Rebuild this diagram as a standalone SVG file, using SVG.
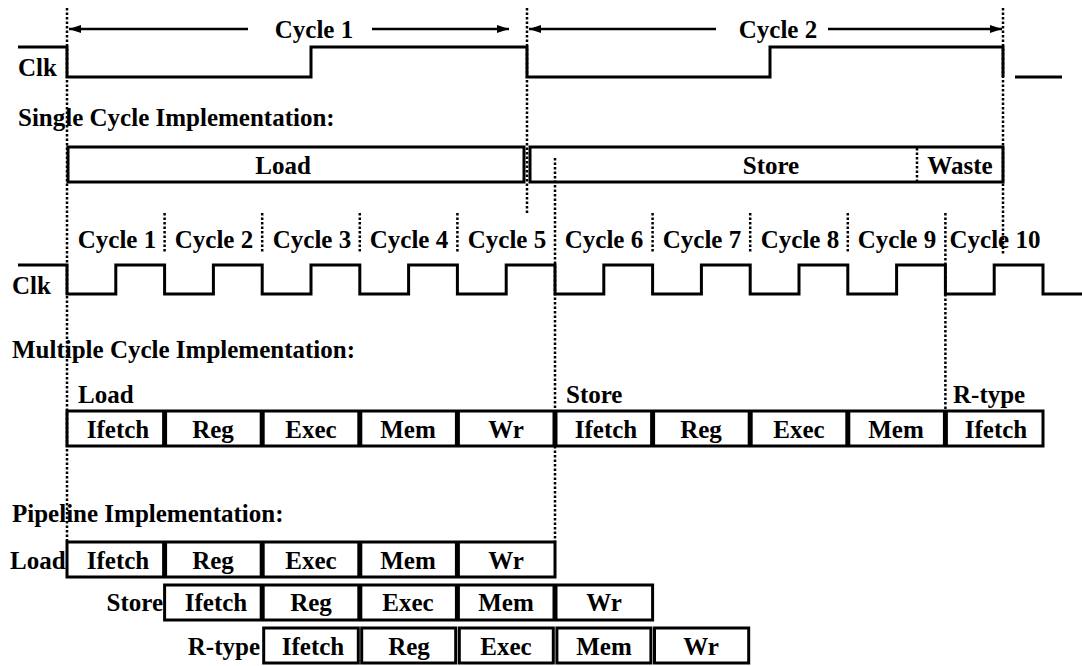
<svg xmlns="http://www.w3.org/2000/svg" width="1082" height="666" viewBox="0 0 1082 666">
<defs>
<style>
text{font-family:"Liberation Serif","Times New Roman",serif;font-weight:bold;font-size:25px;fill:#000}
.m{text-anchor:middle}
.e{text-anchor:end}
.w{fill:none;stroke:#000;stroke-width:3}
.box{fill:#fff;stroke:#000;stroke-width:3}
.sep{stroke:#000;stroke-width:5}
.dot{stroke:#000;stroke-width:2.5;stroke-dasharray:2.5 2;fill:none}
.arr{stroke:#000;stroke-width:2.5;fill:none}
</style>
<marker id="ah" viewBox="0 0 12 8" refX="12" refY="4" markerWidth="12" markerHeight="8" markerUnits="userSpaceOnUse" orient="auto-start-reverse">
<path d="M0,0 L12,4 L0,8 Z" fill="#000"/>
</marker>
</defs>
<rect width="1082" height="666" fill="#fff"/>

<g id="single-cycle">
<text x="314" y="38" class="m">Cycle 1</text>
<text x="778" y="38" class="m">Cycle 2</text>
<text x="18" y="76">Clk</text>
<path class="w" d="M18,47 H67 V77 H311 V47 H527 V77 H770 V47 H1003 V77"/>
<path class="w" d="M1015,77 H1062"/>
<text x="18" y="126">Single Cycle Implementation:</text>
<g id="sc-load"><rect class="box" x="68" y="147" width="456" height="35"/><text x="283" y="174" class="m">Load</text></g>
<g id="sc-store"><rect class="box" x="530" y="147" width="473" height="35"/><text x="771" y="174" class="m">Store</text><text x="960" y="174" class="m">Waste</text></g>
</g>

<g id="multi-cycle">
<text x="117" y="248" class="m">Cycle 1</text>
<text x="214" y="248" class="m">Cycle 2</text>
<text x="312" y="248" class="m">Cycle 3</text>
<text x="409" y="248" class="m">Cycle 4</text>
<text x="507" y="248" class="m">Cycle 5</text>
<text x="604" y="248" class="m">Cycle 6</text>
<text x="702" y="248" class="m">Cycle 7</text>
<text x="800" y="248" class="m">Cycle 8</text>
<text x="897" y="248" class="m">Cycle 9</text>
<text x="995" y="248" class="m">Cycle 10</text>
<text x="12" y="294">Clk</text>
<path class="w" d="M18,265 H67 V294 H115.8 V265 H164.6 V294 H213.4 V265 H262.2 V294 H311 V265 H359.8 V294 H408.6 V265 H457.4 V294 H506.2 V265 H555 V294 H603.8 V265 H652.6 V294 H701.4 V265 H750.2 V294 H799 V265 H847.8 V294 H896.6 V265 H945.4 V294 H994.2 V265 H1043 V294 H1082"/>
<text x="12" y="358">Multiple Cycle Implementation:</text>
<text x="78" y="403">Load</text>
<text x="566" y="403">Store</text>
<text x="953" y="403">R-type</text>
<g id="mc-row">
<rect class="box" x="67" y="411" width="976" height="35"/>
<line class="sep" x1="164.6" y1="411" x2="164.6" y2="446"/>
<line class="sep" x1="262.2" y1="411" x2="262.2" y2="446"/>
<line class="sep" x1="359.8" y1="411" x2="359.8" y2="446"/>
<line class="sep" x1="457.4" y1="411" x2="457.4" y2="446"/>
<line class="sep" x1="555" y1="411" x2="555" y2="446"/>
<line class="sep" x1="652.6" y1="411" x2="652.6" y2="446"/>
<line class="sep" x1="750.2" y1="411" x2="750.2" y2="446"/>
<line class="sep" x1="847.8" y1="411" x2="847.8" y2="446"/>
<line class="sep" x1="945.4" y1="411" x2="945.4" y2="446"/>
<text x="118" y="438" class="m">Ifetch</text>
<text x="213" y="438" class="m">Reg</text>
<text x="311" y="438" class="m">Exec</text>
<text x="408" y="438" class="m">Mem</text>
<text x="506" y="438" class="m">Wr</text>
<text x="606" y="438" class="m">Ifetch</text>
<text x="701" y="438" class="m">Reg</text>
<text x="799" y="438" class="m">Exec</text>
<text x="896" y="438" class="m">Mem</text>
<text x="996" y="438" class="m">Ifetch</text>
</g>
</g>

<g id="pipeline">
<text x="12" y="522">Pipeline Implementation:</text>
<g id="pl-load">
<text x="10" y="569">Load</text>
<rect class="box" x="67" y="542" width="488" height="35"/>
<line class="sep" x1="164.6" y1="542" x2="164.6" y2="577"/>
<line class="sep" x1="262.2" y1="542" x2="262.2" y2="577"/>
<line class="sep" x1="359.8" y1="542" x2="359.8" y2="577"/>
<line class="sep" x1="457.4" y1="542" x2="457.4" y2="577"/>
<text x="118" y="569" class="m">Ifetch</text>
<text x="213" y="569" class="m">Reg</text>
<text x="311" y="569" class="m">Exec</text>
<text x="408" y="569" class="m">Mem</text>
<text x="506" y="569" class="m">Wr</text>
</g>
<g id="pl-store">
<text x="163" y="611" class="e">Store</text>
<rect class="box" x="164.6" y="585" width="488" height="35"/>
<line class="sep" x1="262.2" y1="585" x2="262.2" y2="620"/>
<line class="sep" x1="359.8" y1="585" x2="359.8" y2="620"/>
<line class="sep" x1="457.4" y1="585" x2="457.4" y2="620"/>
<line class="sep" x1="555" y1="585" x2="555" y2="620"/>
<text x="216" y="611" class="m">Ifetch</text>
<text x="311" y="611" class="m">Reg</text>
<text x="408" y="611" class="m">Exec</text>
<text x="506" y="611" class="m">Mem</text>
<text x="604" y="611" class="m">Wr</text>
</g>
<g id="pl-rtype">
<text x="260" y="655" class="e">R-type</text>
<rect class="box" x="263.7" y="628" width="94.6" height="35"/>
<rect class="box" x="361.7" y="628" width="94" height="35"/>
<rect class="box" x="459.3" y="628" width="94" height="35"/>
<rect class="box" x="556.9" y="628" width="94" height="35"/>
<rect class="box" x="654.5" y="628" width="94.2" height="35"/>
<text x="313" y="655" class="m">Ifetch</text>
<text x="409" y="655" class="m">Reg</text>
<text x="506" y="655" class="m">Exec</text>
<text x="604" y="655" class="m">Mem</text>
<text x="701" y="655" class="m">Wr</text>
</g>
</g>

<g id="connectors">
<line class="arr" x1="248" y1="29" x2="69" y2="29" marker-end="url(#ah)"/>
<line class="arr" x1="372" y1="29" x2="509" y2="29" marker-end="url(#ah)"/>
<line class="arr" x1="716" y1="29" x2="529" y2="29" marker-end="url(#ah)"/>
<line class="arr" x1="828" y1="29" x2="1002" y2="29" marker-end="url(#ah)"/>
<line class="dot" x1="67" y1="8" x2="67" y2="542"/>
<line class="dot" x1="527" y1="8" x2="527" y2="214"/>
<line class="dot" x1="1003" y1="8" x2="1003" y2="255"/>
<line class="dot" x1="555" y1="158" x2="555" y2="542"/>
<line class="dot" x1="917" y1="148" x2="917" y2="182"/>
<line class="dot" x1="945.4" y1="213" x2="945.4" y2="411"/>
<line class="dot" x1="164.6" y1="213" x2="164.6" y2="252"/>
<line class="dot" x1="262.2" y1="213" x2="262.2" y2="252"/>
<line class="dot" x1="359.8" y1="213" x2="359.8" y2="252"/>
<line class="dot" x1="457.4" y1="213" x2="457.4" y2="252"/>
<line class="dot" x1="652.6" y1="213" x2="652.6" y2="252"/>
<line class="dot" x1="750.2" y1="213" x2="750.2" y2="252"/>
<line class="dot" x1="847.8" y1="213" x2="847.8" y2="252"/>
</g>
</svg>
